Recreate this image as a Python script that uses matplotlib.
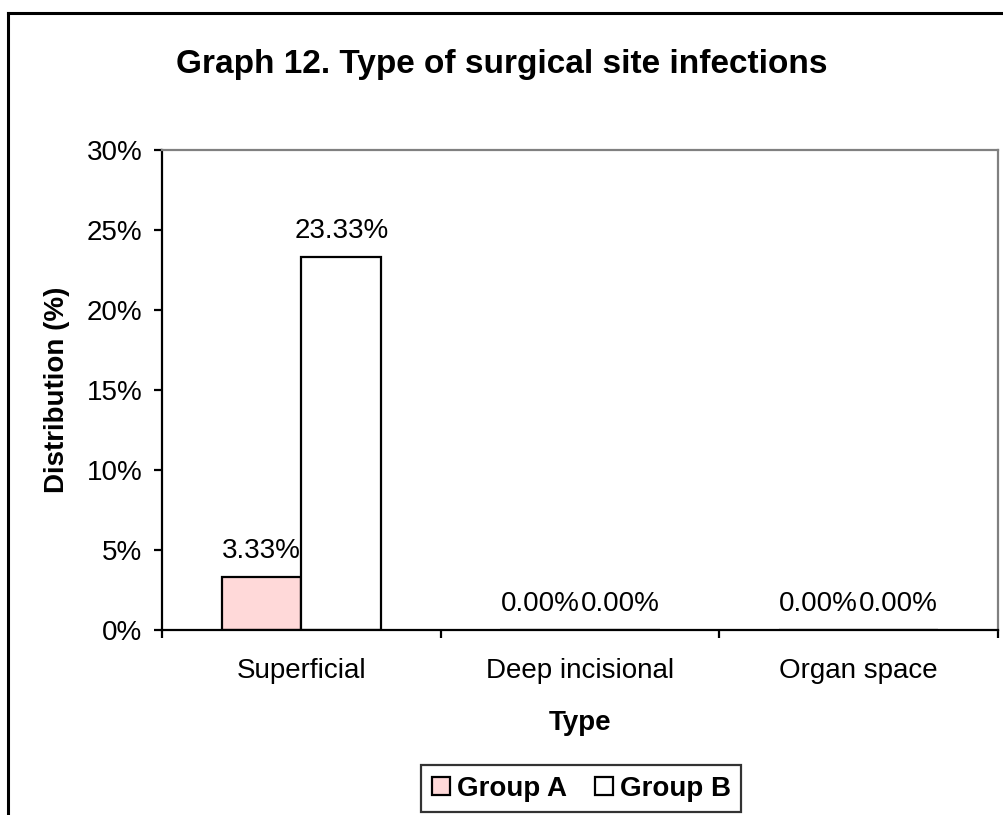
import numpy as np
import matplotlib.pyplot as plt
from matplotlib.lines import Line2D
from matplotlib.ticker import FuncFormatter

categories = ["Superficial", "Deep incisional", "Organ space"]
group_a = [3.33, 0.00, 0.00]
group_b = [23.33, 0.00, 0.00]
series_names = ["Group A", "Group B"]

plt.rcParams["font.family"] = ["Liberation Sans", "DejaVu Sans"]

fig = plt.figure(figsize=(10.04, 8.15), dpi=100)
ax = fig.add_axes([0.1614, 0.2270, 0.8326, 0.5890])

x = np.arange(len(categories))
w = 0.2865
bars_a = ax.bar(x - w / 2, group_a, w, color="#FFD9D9", edgecolor="black", linewidth=1.6, label=series_names[0])
bars_b = ax.bar(x + w / 2, group_b, w, color="white", edgecolor="black", linewidth=1.6, label=series_names[1])

for bars, vals in ((bars_a, group_a), (bars_b, group_b)):
    for b, v in zip(bars, vals):
        ax.annotate(f"{v:.2f}%", (b.get_x() + b.get_width() / 2, v),
                    xytext=(0, 9), textcoords="offset points",
                    ha="center", va="bottom", fontsize=20)

ax.set_xlim(-0.5, 2.5)
ax.set_ylim(0, 30)
ax.set_yticks(np.arange(0, 31, 5))
ax.yaxis.set_major_formatter(FuncFormatter(lambda v, p: f"{v:.0f}%"))
ax.set_xticks([-0.5, 0.5, 1.5, 2.5])
ax.set_xticklabels([])
ax.set_xticks(x, minor=True)
ax.set_xticklabels(categories, minor=True, fontsize=20)
ax.tick_params(axis="x", which="minor", length=0, pad=20)
ax.tick_params(axis="x", which="major", length=6, width=1.6, direction="out")
ax.tick_params(axis="y", length=6, width=1.6, direction="out", labelsize=20, pad=8)

for s in ("left", "bottom"):
    ax.spines[s].set_linewidth(1.6)
    ax.spines[s].set_color("black")
for s in ("top", "right"):
    ax.spines[s].set_linewidth(1.6)
    ax.spines[s].set_color("#808080")

ax.set_xlabel("Type", fontsize=20, fontweight="bold", labelpad=19)
ax.set_ylabel("Distribution (%)", fontsize=20, fontweight="bold", labelpad=12)

fig.text(0.5, 0.921, "Graph 12. Type of surgical site infections",
         ha="center", va="center", fontsize=24, fontweight="bold")

leg = fig.legend(loc="center", bbox_to_anchor=(0.579, 0.032), ncol=2,
                 prop={"weight": "bold", "size": 20}, frameon=True, fancybox=False,
                 handlelength=0.65, handleheight=0.65, handletextpad=0.25, columnspacing=1.0,
                 borderpad=0.38, borderaxespad=0)
leg.get_frame().set_edgecolor("black")
leg.get_frame().set_linewidth(1.6)

# outer chart frame (left and top edges visible)
fig.add_artist(Line2D([8 / 1004, 8 / 1004], [0, 1 - 13 / 815], color="black", lw=2.2, transform=fig.transFigure))
fig.add_artist(Line2D([8 / 1004, 1], [1 - 13 / 815, 1 - 13 / 815], color="black", lw=2.2, transform=fig.transFigure))

fig.savefig("out.png", dpi=100)
